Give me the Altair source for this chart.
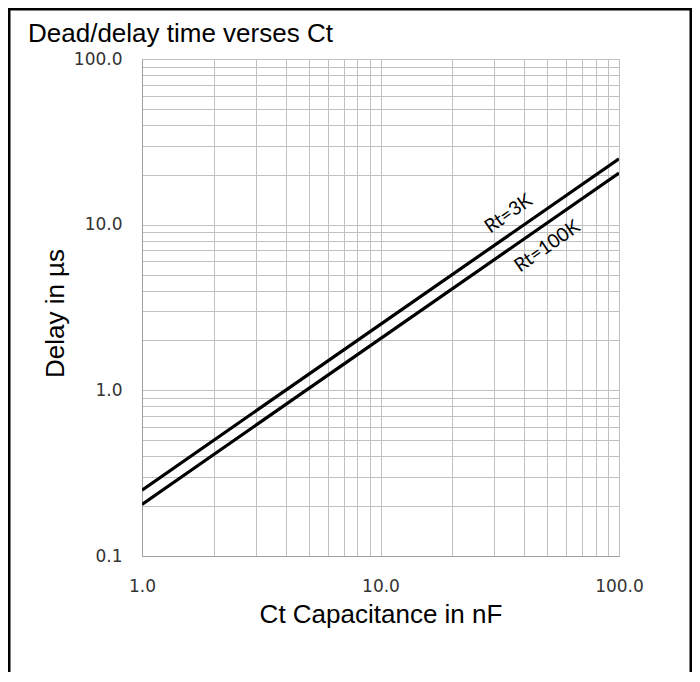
import altair as alt
import pandas as pd

# ---- data ----
ct_nf = [1, 10, 100]
rt3k_us = [0.25, 2.5, 25]
rt100k_us = [0.205, 2.05, 20.5]
series_names = ["Rt=3K", "Rt=100K"]

# label anchors (data units) on each curve
label_text = ["Rt=3K", "Rt=100K"]
label_ct = [38, 45]
label_us = [9.5, 9.2]

chart_title = "Dead/delay time verses Ct"

x_grid = [1, 2, 3, 4, 5, 6, 7, 8, 9, 10, 20, 30, 40, 50, 60, 70, 80, 90, 100]
y_grid = [0.1, 0.2, 0.3, 0.4, 0.5, 0.6, 0.7, 0.8, 0.9,
          1, 2, 3, 4, 5, 6, 7, 8, 9,
          10, 20, 30, 40, 50, 60, 70, 80, 90, 100]

rows = []
for name, vals in zip(series_names, [rt3k_us, rt100k_us]):
    for c, v in zip(ct_nf, vals):
        rows.append({"ct": c, "delay": v, "series": name})
df = pd.DataFrame(rows)
lab = pd.DataFrame({"ct": label_ct, "delay": label_us, "label": label_text})

W, H = 477, 497
PL, PT = 134, 51
PR = 684 - PL - W
PB = 664 - PT - H

xscale = alt.Scale(type="log", domain=[1, 100], nice=False)
yscale = alt.Scale(type="log", domain=[0.1, 100], nice=False)

xaxis = alt.Axis(
    values=x_grid,
    labelExpr="indexof([1,10,100], datum.value) >= 0 ? format(datum.value, '.1f') : ''",
    title="Ct Capacitance in nF",
    titleFont="Liberation Sans", titleFontSize=26, titleFontWeight="normal",
    titleColor="black", titleY=66, titleBaseline="alphabetic",
    labelFont="DejaVu Sans", labelFontSize=17, labelColor="#333333",
    labelPadding=22, labelFlush=False, labelOverlap=False, labelBound=False,
    ticks=False, tickSize=0, grid=True, gridColor="#c0c0c0", gridWidth=1,
    domainColor="#a0a0a0",
)
yaxis = alt.Axis(
    values=y_grid,
    labelExpr="indexof([0.1,1,10,100], datum.value) >= 0 ? format(datum.value, '.1f') : ''",
    title="Delay in µs",
    titleFont="Liberation Sans", titleFontSize=26, titleFontWeight="normal",
    titleColor="black", titleX=-74, titleY=254, titleAngle=270, titleBaseline="bottom",
    labelFont="DejaVu Sans", labelFontSize=17, labelColor="#333333",
    labelPadding=20, labelFlush=False, labelOverlap=False, labelBound=False,
    ticks=False, tickSize=0, grid=True, gridColor="#c0c0c0", gridWidth=1,
    domainColor="#a0a0a0",
)

lines = alt.Chart(df).mark_line(color="black", strokeWidth=3.2, clip=True).encode(
    x=alt.X("ct:Q", scale=xscale, axis=xaxis),
    y=alt.Y("delay:Q", scale=yscale, axis=yaxis),
    detail="series:N",
)

t_up = alt.Chart(lab).transform_filter(alt.datum.label == "Rt=3K").mark_text(
    angle=325, font="Lato", fontSize=19, color="black", baseline="bottom", dy=-8
).encode(x=alt.X("ct:Q", scale=xscale), y=alt.Y("delay:Q", scale=yscale), text="label:N")

t_dn = alt.Chart(lab).transform_filter(alt.datum.label == "Rt=100K").mark_text(
    angle=325, font="Lato", fontSize=19, color="black", baseline="top", dy=10
).encode(x=alt.X("ct:Q", scale=xscale), y=alt.Y("delay:Q", scale=yscale), text="label:N")

title_mark = alt.Chart(pd.DataFrame({"t": [chart_title]})).mark_text(
    align="left", baseline="alphabetic", font="Liberation Sans", fontSize=26,
    color="black", clip=False
).encode(x=alt.value(-114), y=alt.value(-17), text="t:N")

frame = alt.Chart(pd.DataFrame({"k": [0]})).mark_rect(
    fill="transparent", stroke="black", strokeWidth=3, clip=False
).encode(
    x=alt.value(-PL + 1), x2=alt.value(W + PR - 1),
    y=alt.value(-PT + 1), y2=alt.value(H + PB + 40),
)

chart = alt.layer(lines, t_up, t_dn, title_mark, frame).properties(
    width=W, height=H,
    autosize=alt.AutoSizeParams(type="none"),
    padding={"left": PL, "top": PT, "right": PR, "bottom": PB},
).configure_view(stroke="#a0a0a0").configure(background="white")

chart.save("out.html", embed_options={"renderer": "svg", "actions": False})
